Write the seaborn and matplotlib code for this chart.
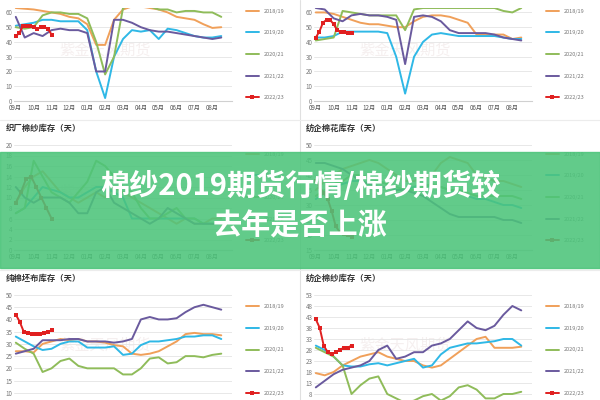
import numpy as np
import pandas as pd
import matplotlib
matplotlib.use("Agg")
import matplotlib.pyplot as plt
import seaborn as sns

sns.set_style("white")
plt.rcParams["font.family"] = ["Noto Sans CJK SC", "DejaVu Sans"]

months = ["09月", "10月", "11月", "12月", "01月", "02月", "03月", "04月", "05月", "06月", "07月", "08月"]
seasons = ["2018/19", "2019/20", "2020/21", "2021/22", "2022/23"]
colors = ["#f0a05a", "#2fb8e6", "#8fbc5a", "#6a5a9e", "#e02020"]

x_full = np.arange(24) * 0.5

# 棉纱(上左)
tl_1819 = [63, 62.5, 62, 61, 60, 59, 57, 56, 52, 38, 38, 55, 62, 64, 64, 63, 62, 60, 57, 56, 55, 52, 49.5, 50]
tl_1920 = [51, 52, 53, 55, 55, 54, 54, 54, 48, 20, 2, 30, 42, 48, 47, 48, 42, 49, 48, 46, 44, 43, 43, 44]
tl_2021 = [50, 49, 50, 58, 60, 60, 59, 59, 56, 40, 18, 30, 63, 65, 64, 64, 62, 62, 60, 61, 61, 60, 60, 57]
tl_2122 = [57, 43, 46, 44, 48, 49, 48, 48, 46, 20, 20, 55, 55, 53, 50, 48, 47, 47, 46, 45, 44, 43, 42, 43]
tl_2223 = [44, 46, 51, 51, 51, 50, 49, 50, 50, 49, 45]

# 棉花(上右)
tr_1819 = [60, 60, 59, 57, 55, 53, 52, 52, 51, 50, 50, 54, 57, 58, 58, 57, 55, 53, 45, 45, 45, 45, 42, 43]
tr_1920 = [43, 43, 44, 47, 47, 47, 47, 47, 46, 30, 5, 30, 40, 45, 46, 45, 44, 44, 44, 44, 44, 43, 42, 42]
tr_2021 = [41, 42, 43, 61, 60, 59, 58, 58, 58, 58, 48, 62, 63, 63, 63, 63, 63, 63, 63, 63, 63, 61, 60, 63]
tr_2122 = [63, 62, 56, 54, 58, 59, 58, 58, 57, 55, 25, 57, 58, 57, 54, 48, 46, 46, 46, 46, 45, 43, 42, 41]
tr_2223 = [43, 47, 53, 55, 55, 52, 48, 47, 47, 46, 46]

# 织厂棉纱库存（天）
ml_1819 = [9, 12, 14, 15, 13, 11, 10, 9, 10, 11, 10, 12, 11, 10, 9, 8, 7, 6, 5, 6, 5, 5, 6, 6]
ml_1920 = [7, 8, 10, 12, 11.5, 11, 10, 10, 11, 12, 12, 11, 10, 6, 6, 6, 6, 6, 6, 6, 6, 5, 5, 5]
ml_2021 = [7, 8, 17, 14, 11, 10, 9, 11, 13, 17, 16, 14, 12, 11, 8, 6, 6, 7, 8, 6, 6, 5, 5, 5]
ml_2122 = [12, 10, 9, 10, 10, 10, 9, 7, 7, 11, 12, 9, 8, 7, 6, 5, 6, 8, 7, 6, 5, 5, 5, 5]
ml_2223 = [9, 11, 13.5, 14, 12, 10, 8, 6]

# 纺企棉花库存（天）
mr_1819 = [35, 38, 40, 42, 43, 44, 45, 44, 42, 40, 38, 38, 39, 40, 44, 46, 45, 44, 40, 39, 38, 38, 37, 36]
mr_1920 = [32, 34, 36, 37, 38, 38, 37, 38, 37, 35, 35, 36, 37, 36, 36, 35, 34, 33, 32, 32, 31, 30, 30, 29]
mr_2021 = [33, 35, 37, 38, 40, 40, 39, 38, 37, 36, 35, 35, 36, 37, 36, 35, 35, 34, 33, 33, 33, 33, 33, 32]
mr_2122 = [44, 44, 43, 42, 40, 38, 37, 36, 36, 35, 35, 34, 33, 31, 29, 27, 26, 26, 26, 26, 26, 25, 25, 24]
mr_2223 = [38, 36, 34, 32, 28, 23, 21, 20.5, 20, 19.5]

# 纯棉坯布库存（天）
bl_1819 = [27, 27, 26.5, 30, 31, 32, 31.5, 32, 31, 31, 30.5, 29.5, 29, 26, 25.5, 26, 27, 29, 31, 34, 34.5, 34, 34, 33.5]
bl_1920 = [33, 31, 29, 27.5, 28, 30, 31, 31, 28.5, 28.5, 28.5, 29, 25.5, 26, 29.5, 31, 31, 31.5, 32, 33, 33, 33.5, 33.5, 32]
bl_2021 = [30.5, 28, 26, 18.5, 20, 23, 24, 21, 20, 20, 20, 20, 17.5, 17.5, 20, 24, 24.5, 22, 22.5, 25, 25, 24.5, 25.5, 26]
bl_2122 = [26, 27, 28, 31.5, 31.5, 31.5, 32, 32, 31, 31, 31, 30.5, 31, 32, 40, 41, 40, 40, 40.5, 43, 45, 46, 45, 44]
bl_2223 = [42, 39, 35, 34.5, 34, 34, 34, 34.5, 35, 35.5]

# 纺企棉纱库存（天）
br_1819 = [17.5, 16.5, 18, 21, 23, 25, 26, 27, 25, 24, 23, 23, 21, 20, 21, 24, 27, 30, 33, 34, 29, 29, 29, 29.5]
br_1920 = [30, 28, 25, 21, 20.5, 20.5, 21.5, 22, 21, 22, 23, 24, 20, 21, 26, 29, 30, 31, 31, 31.5, 32, 33, 33, 30]
br_2021 = [29, 27, 25, 21, 8, 12, 15, 16, 8, 6, 4, 5, 7, 8, 5, 7, 11, 12, 10, 6, 6, 8, 8, 9]
br_2122 = [11, 14, 17, 19, 20, 21, 23, 28, 30, 24, 25, 27, 27, 30, 31, 33, 37, 41, 38, 37, 39, 44, 48, 46]
br_2223 = [42, 38, 30, 27, 26, 27, 28, 29, 29, 30]

W, H = 600, 400
fig = plt.figure(figsize=(6, 4), dpi=100)


def px_axes(x0, y0, x1, y1):
    return fig.add_axes([x0 / W, 1 - y1 / H, (x1 - x0) / W, (y1 - y0) / H])


def panel(ax, series, red, ylim, yticks, title=None, title_y=None, x0=0):
    for vals, c, lab in zip(series, colors[:4], seasons[:4]):
        sns.lineplot(x=x_full, y=vals, ax=ax, color=c, linewidth=1.4, label=lab)
    xr = np.linspace(0, 2.0, len(red))
    sns.lineplot(x=xr, y=red, ax=ax, color=colors[4], linewidth=1.4, marker="s",
                 markersize=2.5, markeredgewidth=0, label=seasons[4])
    ax.set_xlim(-0.1, 12.1)
    ax.set_ylim(*ylim)
    ax.set_yticks(yticks)
    ax.set_xticks(range(12))
    ax.set_xticklabels(months, fontsize=4.5, color="#555555")
    ax.tick_params(axis="y", labelsize=4.5, colors="#777777", length=0, pad=1)
    ax.tick_params(axis="x", length=0, pad=2)
    ax.yaxis.grid(True, color="#e4e4e4", linewidth=0.6)
    for s in ax.spines.values():
        s.set_visible(False)
    ax.spines["bottom"].set_visible(True)
    ax.spines["bottom"].set_color("#d0d0d0")
    ax.set_xlabel("")
    ax.set_ylabel("")
    ax.set_facecolor("none")
    ax.legend(loc="center left", bbox_to_anchor=(1.04, 0.5), frameon=False, fontsize=4,
              labelspacing=3.0, handlelength=2.4, labelcolor="#777777")
    ax.text(0.42, 0.55, "紫金天风期货", transform=ax.transAxes, fontsize=11,
            color="#eadcdc", alpha=0.45, ha="center", va="center", zorder=0)
    if title:
        fig.text((x0 + 6) / W, 1 - title_y / H, title, fontsize=6, color="#333333",
                 va="center", fontweight="bold")


ax = px_axes(14, 8, 232, 101)
panel(ax, [tl_1819, tl_1920, tl_2021, tl_2122], tl_2223, (0, 63), range(0, 61, 10))
ax = px_axes(314, 8, 532, 101)
panel(ax, [tr_1819, tr_1920, tr_2021, tr_2122], tr_2223, (0, 63), range(0, 61, 10))
ax = px_axes(14, 145, 232, 250)
panel(ax, [ml_1819, ml_1920, ml_2021, ml_2122], ml_2223, (0, 20), range(0, 21, 2),
      "织厂棉纱库存（天）", 128, 0)
ax = px_axes(314, 145, 532, 250)
panel(ax, [mr_1819, mr_1920, mr_2021, mr_2122], mr_2223, (15, 50), range(15, 51, 5),
      "纺企棉花库存（天）", 128, 300)
ax = px_axes(14, 295, 232, 405)
panel(ax, [bl_1819, bl_1920, bl_2021, bl_2122], bl_2223, (5, 50), range(5, 51, 5),
      "纯棉坯布库存（天）", 278, 0)
ax = px_axes(314, 295, 532, 405)
panel(ax, [br_1819, br_1920, br_2021, br_2122], br_2223, (3, 53), range(3, 54, 5),
      "纺企棉纱库存（天）", 278, 300)

# 分隔线
fig.add_artist(plt.Line2D([300 / W, 300 / W], [0, 1], color="#e0e0e0", linewidth=0.8))
fig.add_artist(plt.Line2D([0, 1], [1 - 120 / H, 1 - 120 / H], color="#ececec", linewidth=0.8))
fig.add_artist(plt.Line2D([0, 1], [1 - 270 / H, 1 - 270 / H], color="#ececec", linewidth=0.8))

# 绿色标题条
fig.add_artist(plt.Rectangle((0, 1 - 268 / H), 1, 116 / H, transform=fig.transFigure,
                             color="#4cc47a", alpha=0.88, zorder=10))
fig.text(0.5, 1 - 186 / H, "棉纱2019期货行情/棉纱期货较", fontsize=21, fontweight="bold",
         color="white", ha="center", va="center", zorder=11)
fig.text(0.5, 1 - 226 / H, "去年是否上涨", fontsize=21, fontweight="bold",
         color="white", ha="center", va="center", zorder=11)

fig.savefig("out.png", dpi=100)
